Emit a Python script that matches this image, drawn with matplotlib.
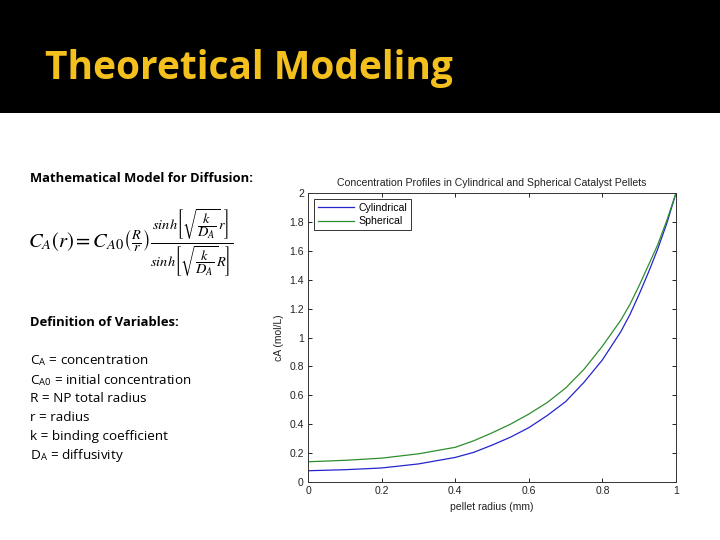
import matplotlib
matplotlib.use("Agg")
import matplotlib.pyplot as plt
from matplotlib.patches import Rectangle
from matplotlib.ticker import FuncFormatter

# Data
radius = [0, 0.1, 0.2, 0.3, 0.4, 0.45, 0.5, 0.55, 0.6, 0.65, 0.7, 0.75, 0.8, 0.85, 0.875, 0.9, 0.925, 0.95, 0.975, 1.0]
cylindrical = [0.078, 0.085, 0.097, 0.125, 0.17, 0.205, 0.255, 0.31, 0.376, 0.46, 0.556, 0.69, 0.845, 1.04, 1.16, 1.30, 1.45, 1.61, 1.79, 2.0]
spherical = [0.14, 0.15, 0.165, 0.195, 0.24, 0.285, 0.340, 0.40, 0.47, 0.55, 0.65, 0.78, 0.94, 1.12, 1.23, 1.36, 1.50, 1.64, 1.81, 2.0]
series_names = ["Cylindrical", "Spherical"]
xticks = [0, 0.2, 0.4, 0.6, 0.8, 1.0]
yticks = [0, 0.2, 0.4, 0.6, 0.8, 1.0, 1.2, 1.4, 1.6, 1.8, 2.0]

slide_title = "Theoretical Modeling"
chart_title = "Concentration Profiles in Cylindrical and Spherical Catalyst Pellets"
variables = [
    r"C$_\mathregular{A}$ = concentration",
    r"C$_\mathregular{A0}$ = initial concentration",
    "R = NP total radius",
    "r = radius",
    "k = binding coefficient",
    r"D$_\mathregular{A}$ = diffusivity",
]

W, H = 720, 540
fig = plt.figure(figsize=(7.2, 5.4), dpi=100)
fig.patch.set_facecolor("white")

def fx(px):
    return px / W

def fy(py):
    return 1 - py / H

# Black header band
fig.patches.append(Rectangle((0, fy(113)), 1, 113 / H, transform=fig.transFigure,
                             facecolor="black", edgecolor="none", zorder=0))
fig.text(fx(45), fy(68), slide_title, color="#F4C01E", fontsize=28, fontweight="bold",
         family="Open Sans", va="center", ha="left")

# Left text
fig.text(fx(30), fy(178), "Mathematical Model for Diffusion:", fontsize=9.4, fontweight="bold",
         family="Open Sans", va="center", ha="left")
plt.rcParams["mathtext.fontset"] = "stix"
eq = (r"$C_A(r) = C_{A0}\left(\frac{R}{r}\right)"
      r"\frac{sinh\left[\sqrt{\dfrac{k}{D_A}}r\right]}{sinh\left[\sqrt{\dfrac{k}{D_A}}R\right]}$")
fig.text(fx(28), fy(243), eq, fontsize=14.8, va="center", ha="left")

fig.text(fx(30), fy(323), "Definition of Variables:", fontsize=9.4, fontweight="bold",
         family="Open Sans", va="center", ha="left")
for i, line in enumerate(variables):
    fig.text(fx(30), fy(361 + i * 18.8), line, fontsize=9.7, family="Open Sans",
             va="center", ha="left")

# Chart
ax = fig.add_axes([fx(308), fy(482), (676 - 308) / W, (482 - 193) / H])
ax.plot(radius, cylindrical, color="#2424CC", lw=0.9, label=series_names[0])
ax.plot(radius, spherical, color="#2E8E2E", lw=0.9, label=series_names[1])
ax.set_xlim(0, 1)
ax.set_ylim(0, 2)
ax.set_xticks(xticks)
ax.set_yticks(yticks)
fmt = FuncFormatter(lambda v, p: "%g" % round(v, 2))
ax.xaxis.set_major_formatter(fmt)
ax.yaxis.set_major_formatter(fmt)
ax.tick_params(direction="in", top=True, right=True, length=3, width=0.7,
               labelsize=7.5, colors="#222222", pad=3)
for lab in ax.get_xticklabels() + ax.get_yticklabels():
    lab.set_family("Liberation Sans")
for s in ax.spines.values():
    s.set_color("#333333")
    s.set_linewidth(0.7)
ax.set_title(chart_title, fontsize=7.6, family="Liberation Sans", color="#222222", pad=5)
ax.set_xlabel("pellet radius (mm)", fontsize=7.5, family="Liberation Sans", color="#222222", labelpad=4)
ax.set_ylabel("cA (mol/L)", fontsize=7.5, family="Liberation Sans", color="#222222", labelpad=4)
leg = ax.legend(loc="upper left", frameon=True, fancybox=False,
                edgecolor="black", handlelength=3.4, borderpad=0.35, labelspacing=0.3,
                handletextpad=0.4, borderaxespad=0.6, prop={"family": "Liberation Sans", "size": 7.6})
leg.get_frame().set_linewidth(0.7)

fig.savefig("out.png", dpi=100)
